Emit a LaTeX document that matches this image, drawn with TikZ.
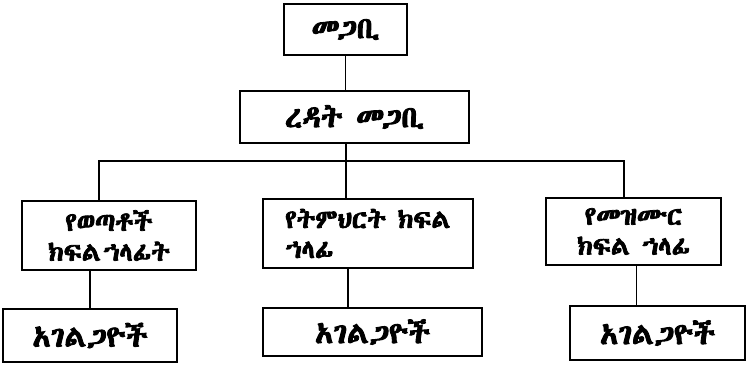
\documentclass[tikz,border=0pt]{standalone}
\usepackage{fontspec}
\usepackage{tikz}
\usetikzlibrary{positioning,calc}
\IfFontExistsTF{Abyssinica SIL}{\newfontfamily\ethfont[FakeBold=3]{Abyssinica SIL}}{%
 \IfFontExistsTF{Unifont}{\newfontfamily\ethfont[FakeBold=3]{Unifont}}{%
  \IfFontExistsTF{Code2000}{\newfontfamily\ethfont[FakeBold=3]{Code2000}}{%
   \IfFontExistsTF{Ebrima}{\newfontfamily\ethfont[FakeBold=3]{Ebrima}}{%
    \newfontfamily\ethfont{DejaVu Sans}}}}}

\tikzset{
    box/.style={draw, line width=1.9pt, inner sep=0pt, align=center, font=\ethfont\fontsize{30}{30}\selectfont},
    dept/.style={box, font=\ethfont\fontsize{26}{30}\selectfont},
    link/.style={line width=1.6pt}
}

\begin{document}
\begin{tikzpicture}[x=1pt, y=1pt]
    \useasboundingbox (0,0) rectangle (746,367);

    % Head
    \node[box, minimum width=123, minimum height=51] (head) at (345.5,337.5) {መጋቢ};
    \node[box, minimum width=229, minimum height=52] (deputy) at (354.5,250) {ረዳት መጋቢ};

    % Departments
    \node[dept, minimum width=174, minimum height=69] (youth) at (109,131.5) {የወጣቶች\\ክፍል\hspace{2pt}ኀላፊት};
    \node[dept, minimum width=210, minimum height=69, align=left] (edu) at (368,133.5) {የትምህርት ክፍል\\ኀላፊ};
    \node[dept, minimum width=175, minimum height=67] (music) at (633.5,135.5) {የመዝሙር\\ክፍል ኀላፊ};

    % Servants
    \node[box, minimum width=174, minimum height=53] (srvA) at (90,31.5) {አገልጋዮች};
    \node[box, minimum width=219, minimum height=48] (srvB) at (372.5,35) {አገልጋዮች};
    \node[box, minimum width=175, minimum height=54] (srvC) at (657.5,34) {አገልጋዮች};

    % Connectors
    \coordinate (busL) at (99,206);
    \coordinate (busM) at (346,206);
    \coordinate (busR) at (624,206);
    \draw[link] (head.south) -- (head.south |- deputy.north);
    \draw[link] (deputy.south -| busM) -- (edu.north -| busM);
    \draw[link] (youth.north -| busL) -- (busL) -- (busR) -- (music.north -| busR);

    \draw[link] (srvA.north |- youth.south) -- (srvA.north);
    \draw[link] ([xshift=-20]edu.south) -- ([xshift=-20]edu.south |- srvB.north);
    \draw[link] ([xshift=3]music.south) -- ([xshift=3]music.south |- srvC.north);
\end{tikzpicture}
\end{document}
